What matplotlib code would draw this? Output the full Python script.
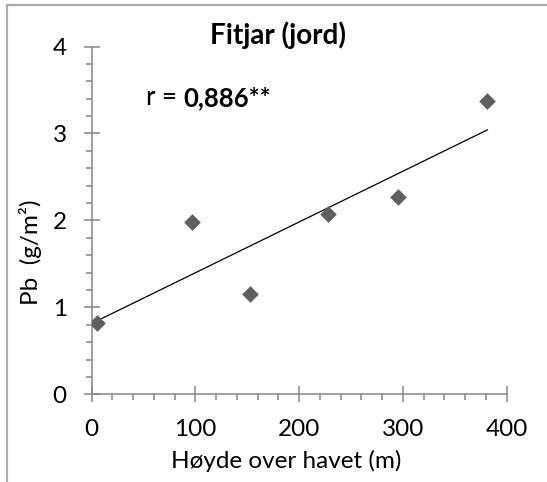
import matplotlib
matplotlib.use("Agg")
import matplotlib.pyplot as plt
from matplotlib.ticker import MultipleLocator
from matplotlib.patches import Rectangle
import numpy as np

# Data
hoyde = [5.4, 96.2, 152.9, 228.2, 295.5, 381.4]
pb = [0.816, 1.984, 1.153, 2.07, 2.264, 3.37]
title = "Fitjar (jord)"
xlabel = "Høyde over havet (m)"
ylabel = "Pb  (g/m²)"
r_label = "r = "
r_value = "0,886**"

FONT = "Lato"
plt.rcParams["font.family"] = [FONT, "DejaVu Sans"]

W, H = 547, 482
fig = plt.figure(figsize=(W / 100, H / 100), dpi=100)

ax = fig.add_axes([91.7 / W, 1 - 394.3 / H, 415 / W, (394.3 - 46.5) / H])

grey = "#868686"
ax.scatter(hoyde, pb, marker="D", s=8.5 ** 2, color="#5f5f5f", zorder=3, linewidths=0)

coef = np.polyfit(hoyde, pb, 1)
xs = np.array([min(hoyde), max(hoyde)])
ax.plot(xs, np.polyval(coef, xs), color="black", lw=0.9, zorder=2)

ax.set_xlim(0, 400)
ax.set_ylim(0, 4)
ax.xaxis.set_major_locator(MultipleLocator(100))
ax.xaxis.set_minor_locator(MultipleLocator(20))
ax.yaxis.set_major_locator(MultipleLocator(1))
ax.yaxis.set_minor_locator(MultipleLocator(0.2))

for s in ["top", "right"]:
    ax.spines[s].set_visible(False)
for s in ["left", "bottom"]:
    ax.spines[s].set_color(grey)
    ax.spines[s].set_linewidth(1.1)

ax.tick_params(which="major", direction="inout", length=12, width=1.1, color=grey,
               labelsize=17.5, pad=12, labelcolor="black")
ax.tick_params(which="minor", direction="out", length=4.2, width=1.1, color=grey)

fig.text(286.5 / W, 1 - 461 / H, xlabel, ha="center", va="center", fontsize=17.5)
fig.text(30 / W, 1 - 252 / H, ylabel, ha="center", va="center", rotation=90, fontsize=17.5)
fig.text(278.5 / W, 1 - 35.5 / H, title, ha="center", va="center", fontsize=20, fontweight="bold")

t1 = ax.text(146 / W, 1 - 97.5 / H, r_label, transform=fig.transFigure, ha="left",
             va="center", fontsize=18.5)
ax.annotate(r_value, xy=(1, 0), xycoords=t1, ha="left", va="bottom", fontsize=18.5,
            fontweight="bold")

fig.patches.append(Rectangle((6.5 / W, -0.01), 1.1, 1 - 5.5 / H + 0.01, transform=fig.transFigure,
                             fill=False, edgecolor="#ababab", lw=1.6))

fig.savefig("out.png", dpi=100)
